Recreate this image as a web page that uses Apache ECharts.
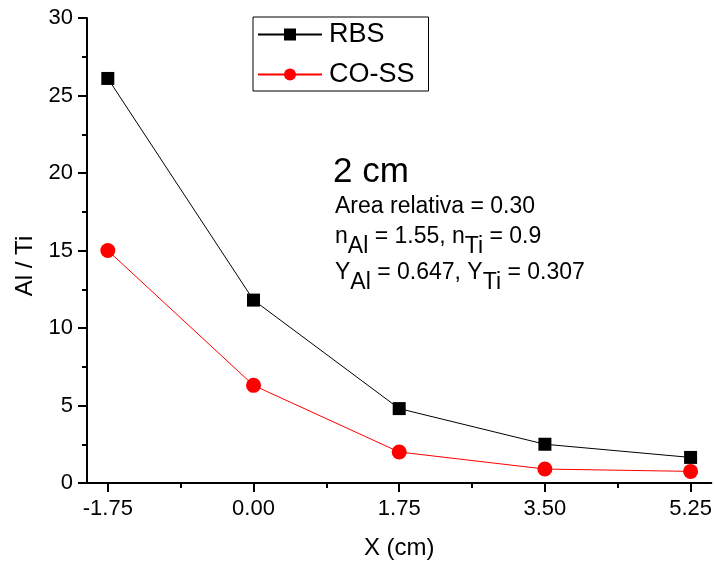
<!DOCTYPE html>
<html>
<head>
<meta charset="utf-8">
<script src="https://cdn.jsdelivr.net/npm/echarts@6/dist/echarts.min.js"></script>
<style>html,body{margin:0;padding:0;background:#fff}#c{width:715px;height:567px}</style>
</head>
<body>
<div id="c"></div>
<script>
var xValues = [-1.75, 0.00, 1.75, 3.50, 5.25];
var rbs = [26.1, 11.8, 4.8, 2.5, 1.65];
var coss = [15.0, 6.3, 2.0, 0.9, 0.75];
var xMajorTicks = [-1.75, 0.00, 1.75, 3.50, 5.25];
var xMinorTicks = [-0.875, 0.875, 2.625, 4.375];
var seriesNames = ['RBS', 'CO-SS'];

var FONT = 'Liberation Sans, Arial, sans-serif';
var chart = echarts.init(document.getElementById('c'), null, {renderer: 'canvas'});
var axisLineStyle = {color: '#000', width: 2};
var subRich = {s: {fontFamily: FONT, fontSize: 23, fill: '#000', verticalAlign: 'bottom', padding: [20, 0, 0, 0]}};
chart.setOption({
  animation: false,
  backgroundColor: '#fff',
  grid: {left: 87, right: 3, top: 18, bottom: 84, containLabel: false},
  legend: {
    left: 253, top: 17,
    orient: 'vertical',
    backgroundColor: '#fff',
    borderColor: '#000', borderWidth: 1,
    padding: [4, 14, 3, 4],
    itemGap: 13,
    itemWidth: 64, itemHeight: 15,
    textStyle: {fontFamily: FONT, fontSize: 27, color: '#000', padding: [0, 0, 0, 2]},
    data: seriesNames
  },
  xAxis: [{
    type: 'value', min: -2, max: 5.5,
    name: 'X (cm)', nameLocation: 'middle', nameGap: 53,
    nameTextStyle: {fontFamily: FONT, fontSize: 24, color: '#000'},
    axisLine: {lineStyle: axisLineStyle, onZero: false},
    axisTick: {customValues: xMajorTicks, length: 9, lineStyle: {color: '#000', width: 2}},
    axisLabel: {customValues: xMajorTicks, fontFamily: FONT, fontSize: 22, color: '#000', margin: 15,
      formatter: function (v) { return v.toFixed(2); }},
    splitLine: {show: false}
  }, {
    type: 'value', min: -2, max: 5.5, position: 'bottom',
    axisLine: {show: false},
    axisTick: {customValues: xMinorTicks, length: 5, lineStyle: {color: '#000', width: 2}},
    axisLabel: {show: false},
    splitLine: {show: false}
  }],
  yAxis: {
    type: 'value', min: 0, max: 30, interval: 5,
    axisLine: {show: true, onZero: false, lineStyle: axisLineStyle},
    axisTick: {show: true, length: 9, lineStyle: {color: '#000', width: 2}},
    minorTick: {show: true, splitNumber: 2, length: 5, lineStyle: {color: '#000', width: 2}},
    axisLabel: {fontFamily: FONT, fontSize: 22, color: '#000', margin: 14},
    splitLine: {show: false}
  },
  series: [{
    name: seriesNames[0], type: 'line',
    data: xValues.map(function (x, i) { return [x, rbs[i]]; }),
    symbol: 'rect', symbolSize: 13,
    itemStyle: {color: '#000'},
    lineStyle: {color: '#000', width: 1}
  }, {
    name: seriesNames[1], type: 'line',
    data: xValues.map(function (x, i) { return [x, coss[i]]; }),
    symbol: 'circle', symbolSize: 15,
    itemStyle: {color: '#ff0000'},
    lineStyle: {color: '#ff0000', width: 1}
  }],
  graphic: [{
    type: 'text', x: 25, y: 266, rotation: Math.PI / 2,
    style: {text: 'Al / Ti', fontFamily: FONT, fontSize: 24, fill: '#000', align: 'center', verticalAlign: 'middle'}
  }, {
    type: 'text', left: 333, top: 155,
    style: {text: '2 cm', fontFamily: FONT, fontSize: 35, fill: '#000'}
  }, {
    type: 'text', left: 335, top: 195,
    style: {text: 'Area relativa = 0.30', fontFamily: FONT, fontSize: 23, fill: '#000'}
  }, {
    type: 'text', left: 335, top: 225,
    style: {text: 'n{s|Al} = 1.55, n{s|Ti} = 0.9', fontFamily: FONT, fontSize: 23, fill: '#000', rich: subRich}
  }, {
    type: 'text', left: 335, top: 261,
    style: {text: 'Y{s|Al} = 0.647, Y{s|Ti} = 0.307', fontFamily: FONT, fontSize: 23, fill: '#000', rich: subRich}
  }]
});
</script>
</body>
</html>
